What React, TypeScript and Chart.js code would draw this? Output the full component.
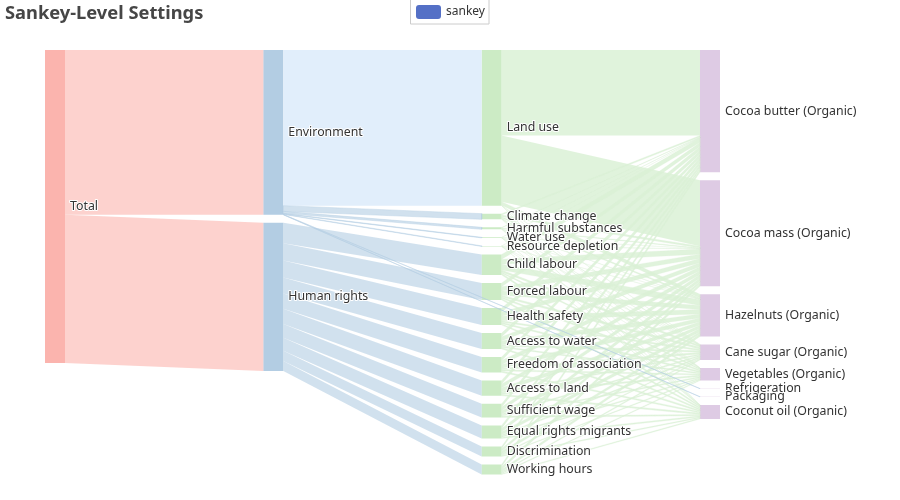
import React, { useEffect, useRef } from "react";
import { Chart, registerables } from "chart.js";

Chart.register(...registerables);

const CHART_TITLE = "Sankey-Level Settings";
const LEGEND_LABEL = "sankey";

const ROOT = "Total";
const groups = ["Environment", "Human rights"];
const groupValues = [0.34228, 0.30757];

const environmentIssues = ["Land use", "Climate change", "Harmful substances", "Water use", "Resource depletion"];
const environmentValues = [0.3232, 0.0118, 0.0041, 0.0012, 0.0011];
const humanIssues = [
  "Child labour", "Forced labour", "Health safety", "Access to water", "Freedom of association",
  "Access to land", "Sufficient wage", "Equal rights migrants", "Discrimination", "Working hours",
];
const humanValues = [0.0425, 0.0355, 0.0355, 0.033, 0.032, 0.0318, 0.0285, 0.027, 0.0209, 0.0209];

const products = [
  "Cocoa butter (Organic)", "Cocoa mass (Organic)", "Hazelnuts (Organic)", "Cane sugar (Organic)",
  "Vegetables (Organic)", "Refrigeration", "Packaging", "Coconut oil (Organic)",
];
const directProducts = ["Refrigeration", "Packaging"];
const directValues = [0.0004, 0.0004];

// Cocoa butter, cocoa mass, hazelnuts, cane sugar, vegetables, coconut oil
const issueProducts = [
  "Cocoa butter (Organic)", "Cocoa mass (Organic)", "Hazelnuts (Organic)",
  "Cane sugar (Organic)", "Vegetables (Organic)", "Coconut oil (Organic)",
];
const landUse = [0.1777, 0.1372, 0.0075, 0.0006, 0.0001, 0.0001];
const climateChange = [0.003, 0.0036, 0.0026, 0.0011, 0.0007, 0.0008];
const harmfulSubstances = [0.0012, 0.0015, 0.0005, 0.0003, 0.0002, 0.0004];
const waterUse = [0.0003, 0.0004, 0.0002, 0.0001, 0.0001, 0.0001];
const resourceDepletion = [0.0002, 0.0003, 0.0003, 0.0001, 0.0001, 0.0001];
const childLabour = [0.0098, 0.0107, 0.012, 0.0038, 0.0028, 0.0034];
const forcedLabour = [0.0081, 0.009, 0.0084, 0.004, 0.0031, 0.0029];
const healthSafety = [0.0085, 0.0088, 0.0092, 0.003, 0.003, 0.003];
const accessToWater = [0.0075, 0.0082, 0.0083, 0.0034, 0.0024, 0.0032];
const freedomOfAssociation = [0.0071, 0.0083, 0.008, 0.0033, 0.0025, 0.0028];
const accessToLand = [0.0076, 0.0079, 0.0074, 0.0029, 0.0029, 0.0031];
const sufficientWage = [0.0067, 0.0073, 0.0068, 0.0026, 0.0024, 0.0027];
const equalRights = [0.0062, 0.0067, 0.0064, 0.0027, 0.0024, 0.0026];
const discrimination = [0.0048, 0.0053, 0.005, 0.002, 0.0018, 0.002];
const workingHours = [0.0049, 0.0053, 0.0049, 0.0021, 0.0018, 0.0019];

const issueRows = [
  landUse, climateChange, harmfulSubstances, waterUse, resourceDepletion, childLabour, forcedLabour,
  healthSafety, accessToWater, freedomOfAssociation, accessToLand, sufficientWage, equalRights,
  discrimination, workingHours,
];

const LEVEL_COLORS = ["#fbb4ae", "#b3cde3", "#ccebc5", "#decbe4"];
const LINK_COLORS = ["rgba(251,180,174,0.6)", "rgba(179,205,227,0.6)", "rgba(218,241,214,0.85)"];
const LAND_USE_LINK_COLOR = "#e1eefb";
const FONT = '"Noto Sans", sans-serif';

type Link = { source: string; target: string; value: number };
const issues = [...environmentIssues, ...humanIssues];
const columns = [[ROOT], groups, issues, products];

const links: Link[] = [];
groups.forEach((g, i) => links.push({ source: ROOT, target: g, value: groupValues[i] }));
environmentIssues.forEach((s, i) => links.push({ source: groups[0], target: s, value: environmentValues[i] }));
humanIssues.forEach((s, i) => links.push({ source: groups[1], target: s, value: humanValues[i] }));
issues.forEach((s, r) =>
  issueProducts.forEach((p, c) => links.push({ source: s, target: p, value: issueRows[r][c] })),
);
directProducts.forEach((s, i) => links.push({ source: groups[0], target: s, value: directValues[i] }));

// Scale geometry: one x unit is one column step, one y unit is one unit of flow.
const PX_PER_COL = 218.33;
const PX_PER_VALUE = 481.6;
const NODE_W = 20 / PX_PER_COL;
const GAP = 8 / PX_PER_VALUE;

type NodeBox = { name: string; col: number; y0: number; y1: number };
type Shape = { color: string; border: number; pts: { x: number; y: number }[] };

function layout() {
  const boxes = new Map<string, NodeBox>();
  columns.forEach((names, col) => {
    let y = 0;
    names.forEach((name) => {
      const inSum = links.filter((l) => l.target === name).reduce((a, l) => a + l.value, 0);
      const outSum = links.filter((l) => l.source === name).reduce((a, l) => a + l.value, 0);
      const v = Math.max(inSum, outSum);
      boxes.set(name, { name, col, y0: y, y1: y + v });
      y += v + GAP;
    });
  });
  const outOff = new Map<string, number>();
  const inOff = new Map<string, number>();
  const shapes: Shape[] = [];
  const placed = new Map<Link, { s: number; t: number }>();
  boxes.forEach((b) => {
    links
      .filter((l) => l.source === b.name)
      .sort((p, q) => boxes.get(p.target)!.y0 - boxes.get(q.target)!.y0)
      .forEach((l) => {
        const o = outOff.get(b.name) ?? b.y0;
        placed.set(l, { s: o, t: 0 });
        outOff.set(b.name, o + l.value);
      });
  });
  boxes.forEach((b) => {
    links
      .filter((l) => l.target === b.name)
      .sort((p, q) => boxes.get(p.source)!.y0 - boxes.get(q.source)!.y0)
      .forEach((l) => {
        const o = inOff.get(b.name) ?? b.y0;
        placed.get(l)!.t = o;
        inOff.set(b.name, o + l.value);
      });
  });
  boxes.forEach((b) => {
    shapes.push({
      color: LEVEL_COLORS[b.col],
      border: 0,
      pts: [
        { x: b.col, y: b.y0 },
        { x: b.col + NODE_W, y: b.y0 },
        { x: b.col + NODE_W, y: b.y1 },
        { x: b.col, y: b.y1 },
        { x: b.col, y: b.y0 },
      ],
    });
  });
  links.forEach((l) => {
    const src = boxes.get(l.source)!;
    const tgt = boxes.get(l.target)!;
    const p = placed.get(l)!;
    const x0 = src.col + NODE_W;
    const x1 = tgt.col;
    const thin = l.value < 0.02 && src.col > 0;
    shapes.push({
      color: l.source === groups[0] && l.target === environmentIssues[0] ? LAND_USE_LINK_COLOR : LINK_COLORS[src.col],
      border: thin ? (src.col === 1 ? 0.7 : 0.3) : 0,
      pts: [
        { x: x0, y: p.s },
        { x: x1, y: p.t },
        { x: x1, y: p.t + l.value },
        { x: x0, y: p.s + l.value },
        { x: x0, y: p.s },
      ],
    });
  });
  return { boxes, shapes };
}

const { boxes, shapes } = layout();

const decorations = {
  id: "decorations",
  afterDatasetsDraw(chart: any) {
    const { ctx, scales } = chart;
    ctx.save();
    // node labels
    ctx.font = `12.35px ${FONT}`;
    ctx.textBaseline = "middle";
    ctx.textAlign = "left";
    ctx.lineJoin = "round";
    boxes.forEach((b) => {
      const x = scales.x.getPixelForValue(b.col + NODE_W) + 5;
      const y = scales.y.getPixelForValue((b.y0 + b.y1) / 2);
      ctx.lineWidth = 2;
      ctx.strokeStyle = "#ffffff";
      ctx.strokeText(b.name, x, y);
      ctx.fillStyle = "#333333";
      ctx.fillText(b.name, x, y);
    });
    // title
    ctx.font = `bold 18.3px ${FONT}`;
    ctx.fillStyle = "#464646";
    ctx.textBaseline = "middle";
    ctx.fillText(CHART_TITLE, 5, 13.5);
    // legend
    ctx.strokeStyle = "#cccccc";
    ctx.lineWidth = 1;
    ctx.strokeRect(410.5, -1, 78.5, 25);
    ctx.fillStyle = "#5470c6";
    ctx.beginPath();
    ctx.roundRect(416, 5, 25, 14, 3);
    ctx.fill();
    ctx.font = `12px ${FONT}`;
    ctx.fillStyle = "#333333";
    ctx.fillText(LEGEND_LABEL, 446, 12);
    ctx.restore();
  },
};

export default function App() {
  const ref = useRef<HTMLCanvasElement>(null);
  useEffect(() => {
    const chart = new Chart(ref.current!, {
      type: "scatter",
      data: {
        // Chart.js paints the first dataset last, so the list is reversed.
        datasets: [...shapes].reverse().map((s) => ({
          data: s.pts,
          showLine: true,
          fill: "shape",
          backgroundColor: s.color,
          borderWidth: s.border,
          borderColor: s.border ? s.color : "transparent",
          pointRadius: 0,
          tension: 0,
        })),
      },
      options: {
        animation: false,
        responsive: false,
        events: [],
        layout: { padding: 0 },
        plugins: { legend: { display: false }, title: { display: false }, tooltip: { enabled: false } },
        scales: {
          x: { type: "linear", display: false, min: -45 / PX_PER_COL, max: 855 / PX_PER_COL },
          y: { type: "linear", display: false, reverse: true, min: -50 / PX_PER_VALUE, max: 450 / PX_PER_VALUE },
        },
      },
      plugins: [decorations],
    } as any);
    return () => chart.destroy();
  }, []);
  return (
    <div style={{ position: "fixed", left: 0, top: 0, width: 900, height: 500, background: "#fff" }}>
      <canvas ref={ref} width={900} height={500} style={{ display: "block" }} />
    </div>
  );
}
